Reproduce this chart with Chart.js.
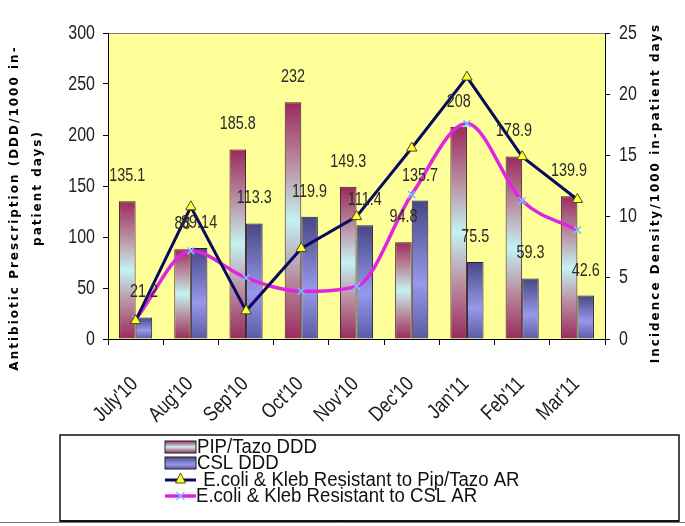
<!DOCTYPE html>
<html>
<head>
<meta charset="utf-8">
<script src="https://cdn.jsdelivr.net/npm/chart.js@4.4.1/dist/chart.umd.min.js"></script>
<style>
  html, body { margin: 0; padding: 0; background: #fff; }
  #wrap { width: 685px; height: 526px; position: relative; }
</style>
</head>
<body>
<div id="wrap"><canvas id="abxChart" width="685" height="526"></canvas></div>
<script>
const months = ["July'10", "Aug'10", "Sep'10", "Oct'10", "Nov'10", "Dec'10", "Jan'11", "Feb'11", "Mar'11"];
const pipTazoDDD = [135.1, 88, 185.8, 232, 149.3, 94.8, 208, 178.9, 139.9];
const cslDDD = [21.2, 89.14, 113.3, 119.9, 111.4, 135.7, 75.5, 59.3, 42.6];
const pipTazoAR = [1.5, 10.8, 2.3, 7.4, 10.0, 15.6, 21.4, 14.9, 11.4];
const cslAR = [1.6, 7.2, 5.0, 3.9, 4.3, 11.8, 17.6, 11.3, 8.9];
const leftTicks = [0, 50, 100, 150, 200, 250, 300];
const rightTicks = [0, 5, 10, 15, 20, 25];

const SANS = '"Liberation Sans", Arial, sans-serif';
Chart.defaults.font.family = SANS;
Chart.defaults.color = '#222';

// no narrow face installed, so squeeze Liberation Sans horizontally
function narrowText(ctx, text, x, y, align, angle, squeeze) {
  ctx.save();
  ctx.translate(x, y);
  if (angle) ctx.rotate(angle);
  ctx.scale(squeeze || 0.8, 1);
  ctx.textAlign = align;
  ctx.fillText(text, 0, 0);
  ctx.restore();
}

function pipGradient(ctx, top, bottom) {
  const g = ctx.createLinearGradient(0, top, 0, bottom);
  g.addColorStop(0, '#9a2a5e');
  g.addColorStop(0.25, '#b88a9e');
  g.addColorStop(0.5, '#c4f2f2');
  g.addColorStop(0.75, '#b88a9e');
  g.addColorStop(1, '#9a2a5e');
  return g;
}

function cslGradient(ctx, top, bottom) {
  const g = ctx.createLinearGradient(0, top, 0, bottom);
  g.addColorStop(0, '#474784');
  g.addColorStop(0.6, '#9898ec');
  g.addColorStop(1, '#5a5aa4');
  return g;
}

function barFill(maker, fallback) {
  return function (c) {
    const chart = c.chart;
    if (!chart.chartArea || !chart.scales.y) return fallback;
    const top = chart.scales.y.getPixelForValue(c.raw);
    const bottom = chart.scales.y.getPixelForValue(0);
    if (!(bottom > top)) return fallback;
    return maker(chart.ctx, top, bottom);
  };
}

// yellow plot area with grey top edge
const plotBackground = {
  id: 'plotBackground',
  beforeDraw(chart) {
    const { ctx, chartArea: a } = chart;
    ctx.save();
    ctx.fillStyle = '#ffff99';
    ctx.fillRect(a.left, a.top, a.right - a.left, a.bottom - a.top);
    ctx.strokeStyle = '#808080';
    ctx.lineWidth = 1;
    ctx.beginPath();
    ctx.moveTo(a.left, a.top + 0.5);
    ctx.lineTo(a.right, a.top + 0.5);
    ctx.stroke();
    ctx.restore();
  }
};

// value labels above the bars
const barLabels = {
  id: 'barLabels',
  afterDatasetsDraw(chart) {
    const ctx = chart.ctx;
    ctx.save();
    ctx.font = '18px ' + SANS;
    ctx.fillStyle = '#2a2a2a';
    ctx.textBaseline = 'bottom';
    [0, 1].forEach(i => {
      const meta = chart.getDatasetMeta(i);
      const values = chart.data.datasets[i].data;
      meta.data.forEach((bar, j) => {
        narrowText(ctx, String(values[j]), bar.x, bar.y - 16, 'center');
      });
    });
    ctx.restore();
  }
};

// tick labels, squeezed like the original narrow face
const tickLabels = {
  id: 'tickLabels',
  afterDraw(chart) {
    const ctx = chart.ctx;
    const { x, y, y1 } = chart.scales;
    ctx.save();
    ctx.fillStyle = '#222';
    ctx.textBaseline = 'middle';
    ctx.font = '20px ' + SANS;
    y.ticks.forEach(t => narrowText(ctx, String(t.value), y.right - 13, y.getPixelForValue(t.value), 'right'));
    y1.ticks.forEach(t => narrowText(ctx, String(t.value), y1.left + 14, y1.getPixelForValue(t.value), 'left'));
    ctx.font = '21px ' + SANS;
    ctx.fillStyle = '#1a1a1a';
    chart.data.labels.forEach((lab, i) => {
      narrowText(ctx, lab, x.getPixelForValue(i) - 1, x.top + 42, 'right', -Math.PI / 4, 0.82);
    });
    ctx.restore();
  }
};

// axis titles, legend box and bottom rule
const decorations = {
  id: 'decorations',
  afterDraw(chart) {
    const ctx = chart.ctx;
    ctx.save();
    ctx.fillStyle = '#000';
    ctx.font = 'bold 12px "DejaVu Sans", sans-serif';
    ctx.letterSpacing = '2px';
    ctx.textAlign = 'center';
    ctx.textBaseline = 'middle';

    ctx.save();
    ctx.translate(15, 208);
    ctx.rotate(-Math.PI / 2);
    ctx.fillText('Antibiotic Prescription (DDD/1000 in-', 0, 0);
    ctx.restore();

    ctx.save();
    ctx.translate(38, 188);
    ctx.rotate(-Math.PI / 2);
    ctx.fillText('patient days)', 0, 0);
    ctx.restore();

    ctx.save();
    ctx.translate(656, 193);
    ctx.rotate(-Math.PI / 2);
    ctx.fillText('Incidence Density/1000 in-patient days', 0, 0);
    ctx.restore();
    ctx.letterSpacing = '0px';

    // bottom rule and legend box
    ctx.strokeStyle = '#777';
    ctx.lineWidth = 1;
    ctx.beginPath();
    ctx.moveTo(0, 522.5);
    ctx.lineTo(685, 522.5);
    ctx.stroke();

    ctx.strokeStyle = '#111';
    ctx.lineWidth = 1.5;
    ctx.strokeRect(60, 435, 619, 86);
    ctx.lineWidth = 2;
    ctx.beginPath();
    ctx.moveTo(60, 521);
    ctx.lineTo(679, 521);
    ctx.stroke();

    const ds = chart.data.datasets;
    const sx = 165, sw = 31;
    const rows = [447, 463, 480, 496];

    // bar swatches
    ctx.lineWidth = 1;
    ctx.strokeStyle = '#222';
    ctx.fillStyle = pipGradient(ctx, rows[0] - 6, rows[0] + 6);
    ctx.fillRect(sx, rows[0] - 6, sw, 12);
    ctx.strokeRect(sx, rows[0] - 6, sw, 12);
    ctx.fillStyle = cslGradient(ctx, rows[1] - 6, rows[1] + 6);
    ctx.fillRect(sx, rows[1] - 6, sw, 12);
    ctx.strokeRect(sx, rows[1] - 6, sw, 12);

    // line swatches
    ctx.strokeStyle = ds[2].borderColor;
    ctx.lineWidth = 3;
    ctx.beginPath();
    ctx.moveTo(sx, rows[2]);
    ctx.lineTo(sx + sw, rows[2]);
    ctx.stroke();
    ctx.fillStyle = ds[2].pointBackgroundColor;
    ctx.strokeStyle = ds[2].pointBorderColor;
    ctx.lineWidth = 1;
    ctx.beginPath();
    ctx.moveTo(sx + sw / 2, rows[2] - 7);
    ctx.lineTo(sx + sw / 2 - 5, rows[2] + 3);
    ctx.lineTo(sx + sw / 2 + 5, rows[2] + 3);
    ctx.closePath();
    ctx.fill();
    ctx.stroke();

    ctx.strokeStyle = ds[3].borderColor;
    ctx.lineWidth = 3.5;
    ctx.beginPath();
    ctx.moveTo(sx, rows[3]);
    ctx.lineTo(sx + sw, rows[3]);
    ctx.stroke();
    ctx.strokeStyle = ds[3].pointBorderColor;
    ctx.lineWidth = 1.5;
    ctx.beginPath();
    ctx.moveTo(sx + sw / 2 - 4, rows[3] - 4);
    ctx.lineTo(sx + sw / 2 + 4, rows[3] + 4);
    ctx.moveTo(sx + sw / 2 + 4, rows[3] - 4);
    ctx.lineTo(sx + sw / 2 - 4, rows[3] + 4);
    ctx.stroke();

    ctx.font = '20px ' + SANS;
    ctx.fillStyle = '#111';
    narrowText(ctx, ds[0].label, 197, rows[0], 'left', 0, 0.93);
    narrowText(ctx, ds[1].label, 197, rows[1], 'left', 0, 0.93);
    narrowText(ctx, ' ' + ds[2].label, 198, rows[2], 'left', 0, 0.93);
    narrowText(ctx, ds[3].label, 196, rows[3], 'left', 0, 0.93);
    ctx.restore();
  }
};

const ctx = document.getElementById('abxChart').getContext('2d');

const abxChart = new Chart(ctx, {
  type: 'bar',
  data: {
    labels: months,
    datasets: [
      {
        label: 'PIP/Tazo DDD',
        data: pipTazoDDD,
        yAxisID: 'y',
        order: 1,
        backgroundColor: barFill(pipGradient, '#a04a74'),
        borderColor: '#3a1a28',
        borderWidth: 1,
        categoryPercentage: 0.6,
        barPercentage: 1.0
      },
      {
        label: 'CSL DDD',
        data: cslDDD,
        yAxisID: 'y',
        order: 1,
        backgroundColor: barFill(cslGradient, '#6a6ab8'),
        borderColor: '#1e1e40',
        borderWidth: 1,
        categoryPercentage: 0.6,
        barPercentage: 1.0
      },
      {
        type: 'line',
        label: 'E.coli & Kleb Resistant to Pip/Tazo AR',
        data: pipTazoAR,
        yAxisID: 'y1',
        order: 0,
        borderColor: '#0a0a5e',
        borderWidth: 3,
        tension: 0,
        pointStyle: 'triangle',
        pointRadius: 6,
        pointBackgroundColor: '#ffff3a',
        pointBorderColor: '#4a4a10',
        pointBorderWidth: 1
      },
      {
        type: 'line',
        label: 'E.coli & Kleb Resistant to CSL AR',
        data: cslAR,
        yAxisID: 'y1',
        order: 0,
        borderColor: '#e024e0',
        borderWidth: 3.5,
        cubicInterpolationMode: 'monotone',
        pointStyle: 'crossRot',
        pointRadius: 5,
        pointBorderColor: '#70c4ff',
        pointBorderWidth: 1.5
      }
    ]
  },
  options: {
    responsive: false,
    animation: false,
    layout: { padding: { top: 33, left: 0, right: 0, bottom: 0 } },
    plugins: {
      legend: { display: false },
      tooltip: { enabled: false }
    },
    scales: {
      x: {
        grid: { display: true, drawOnChartArea: false, offset: true, color: '#000', tickLength: 6 },
        border: { display: true, color: '#000', width: 1 },
        ticks: { display: false },
        afterFit(scale) { scale.height = 187; }
      },
      y: {
        position: 'left',
        min: 0,
        max: 300,
        afterBuildTicks(scale) { scale.ticks = leftTicks.map(v => ({ value: v })); },
        grid: { display: true, drawOnChartArea: false, color: '#000', tickLength: 5 },
        border: { display: true, color: '#000', width: 1 },
        ticks: { display: false },
        afterFit(scale) { scale.width = 108; }
      },
      y1: {
        position: 'right',
        min: 0,
        max: 25,
        afterBuildTicks(scale) { scale.ticks = rightTicks.map(v => ({ value: v })); },
        grid: { display: true, drawOnChartArea: false, color: '#000', tickLength: 5 },
        border: { display: true, color: '#000', width: 1 },
        ticks: { display: false },
        afterFit(scale) { scale.width = 80; }
      }
    }
  },
  plugins: [plotBackground, barLabels, tickLabels, decorations]
});
</script>
</body>
</html>
